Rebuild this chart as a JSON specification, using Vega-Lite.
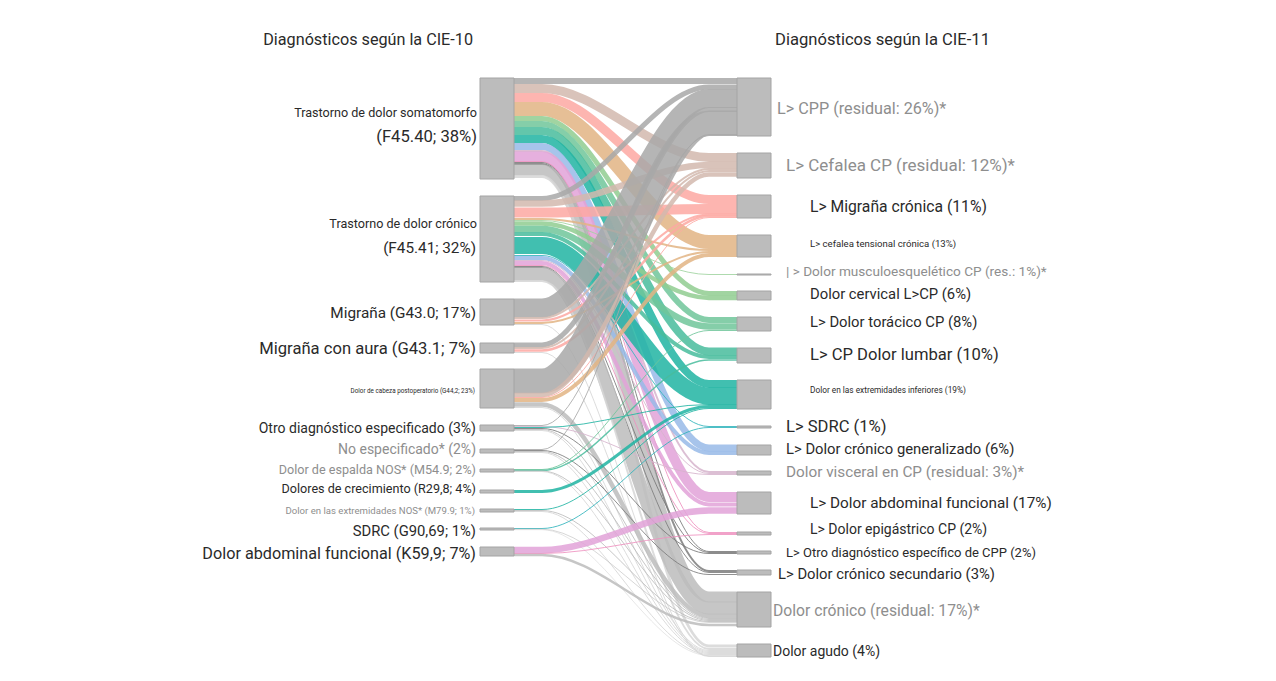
{"$schema":"https://vega.github.io/schema/vega-lite/v6.json","width":1276,"height":681,"padding":0,"autosize":{"type":"fit","contains":"padding"},"background":"white","config":{"view":{"stroke":null}},
"encoding":{"x":{"field":"x","type":"quantitative","axis":null,"scale":{"domain":[0,1276],"nice":false,"zero":false}},"y":{"field":"y","type":"quantitative","axis":null,"scale":{"domain":[0,681],"reverse":true,"nice":false,"zero":false}}},
"layer":[
{"data":{"values":[
{"id":1,"d":"CPP","w":6,"x":[514,542,709,737],"y":[81,81,81,81]},
{"id":2,"d":"Cefalea","w":9,"x":[514,542,709,737],"y":[88.5,88.5,157.5,157.5]},
{"id":3,"d":"Migraña","w":9,"x":[514,542,709,737],"y":[97.5,97.5,199.5,199.5]},
{"id":4,"d":"Tensional","w":14,"x":[514,542,709,737],"y":[109,109,242,242]},
{"id":5,"d":"Cervical","w":5,"x":[514,542,709,737],"y":[118.5,118.5,293.5,293.5]},
{"id":6,"d":"Toracico","w":6,"x":[514,542,709,737],"y":[124,124,320,320]},
{"id":7,"d":"Lumbar","w":8,"x":[514,542,709,737],"y":[131,131,351.5,351.5]},
{"id":8,"d":"Extrem","w":8,"x":[514,542,709,737],"y":[139,139,384,384]},
{"id":9,"d":"General","w":7,"x":[514,542,709,737],"y":[146.5,146.5,448,448]},
{"id":10,"d":"Visceral","w":2,"x":[514,542,709,737],"y":[151,151,472,472]},
{"id":11,"d":"Abd","w":10,"x":[514,542,709,737],"y":[156.5,156.5,497,497]},
{"id":12,"d":"Epig","w":1,"x":[514,542,709,737],"y":[161.5,161.5,532.5,532.5]},
{"id":13,"d":"Otro","w":1,"x":[514,542,709,737],"y":[162.5,162.5,551.5,551.5]},
{"id":14,"d":"Secund","w":2,"x":[514,542,709,737],"y":[164,164,571,571]},
{"id":15,"d":"Res","w":11,"x":[514,542,709,737],"y":[170,170,597,597]},
{"id":16,"d":"Agudo","w":3,"x":[514,542,709,737],"y":[176.5,176.5,646,646]},
{"id":17,"d":"CPP","w":5,"x":[514,542,709,737],"y":[198.5,198.5,87,87]},
{"id":18,"d":"Cefalea","w":6.5,"x":[514,542,709,737],"y":[203.5,203.5,165,165]},
{"id":19,"d":"Migraña","w":10,"x":[514,542,709,737],"y":[212.5,212.5,209,209]},
{"id":20,"d":"Tensional","w":2,"x":[514,542,709,737],"y":[219,219,250,250]},
{"id":21,"d":"Musculo","w":1,"x":[514,542,709,737],"y":[220.5,220.5,274.5,274.5]},
{"id":22,"d":"Cervical","w":4.5,"x":[514,542,709,737],"y":[223.5,223.5,298,298]},
{"id":23,"d":"Toracico","w":6.5,"x":[514,542,709,737],"y":[229,229,326.5,326.5]},
{"id":24,"d":"Lumbar","w":4,"x":[514,542,709,737],"y":[234,234,357,357]},
{"id":25,"d":"Extrem","w":17,"x":[514,542,709,737],"y":[245.5,245.5,396,396]},
{"id":26,"d":"SDRC","w":1,"x":[514,542,709,737],"y":[255.5,255.5,426.5,426.5]},
{"id":27,"d":"General","w":4,"x":[514,542,709,737],"y":[258,258,453,453]},
{"id":28,"d":"Visceral","w":1,"x":[514,542,709,737],"y":[260.5,260.5,473.5,473.5]},
{"id":29,"d":"Abd","w":4,"x":[514,542,709,737],"y":[263,263,504.5,504.5]},
{"id":30,"d":"Epig","w":1,"x":[514,542,709,737],"y":[265.5,265.5,533.5,533.5]},
{"id":31,"d":"Otro","w":1,"x":[514,542,709,737],"y":[266.5,266.5,552.5,552.5]},
{"id":32,"d":"Secund","w":1,"x":[514,542,709,737],"y":[267.5,267.5,572.5,572.5]},
{"id":33,"d":"Res","w":13,"x":[514,542,709,737],"y":[274,274,608,608]},
{"id":34,"d":"Agudo","w":2,"x":[514,542,709,737],"y":[281,281,649,649]},
{"id":35,"d":"CPP","w":19,"x":[514,542,709,737],"y":[308,308,98.5,98.5]},
{"id":36,"d":"Cefalea","w":2,"x":[514,542,709,737],"y":[318,318,169,169]},
{"id":37,"d":"Migraña","w":2,"x":[514,542,709,737],"y":[320.5,320.5,214.5,214.5]},
{"id":38,"d":"Tensional","w":2,"x":[514,542,709,737],"y":[323,323,252,252]},
{"id":39,"d":"Agudo","w":1,"x":[514,542,709,737],"y":[324.5,324.5,656,656]},
{"id":40,"d":"CPP","w":5,"x":[514,542,709,737],"y":[345,345,109.5,109.5]},
{"id":41,"d":"Cefalea","w":2,"x":[514,542,709,737],"y":[348,348,171,171]},
{"id":42,"d":"Migraña","w":2.5,"x":[514,542,709,737],"y":[350.5,350.5,216,216]},
{"id":43,"d":"Agudo","w":1,"x":[514,542,709,737],"y":[352.5,352.5,656.5,656.5]},
{"id":44,"d":"CPP","w":25,"x":[514,542,709,737],"y":[381,381,123,123]},
{"id":45,"d":"Cefalea","w":4.5,"x":[514,542,709,737],"y":[395,395,174.5,174.5]},
{"id":46,"d":"Migraña","w":1,"x":[514,542,709,737],"y":[397.5,397.5,217.5,217.5]},
{"id":47,"d":"Tensional","w":4,"x":[514,542,709,737],"y":[400,400,255,255]},
{"id":48,"d":"Res","w":4.5,"x":[514,542,709,737],"y":[404.5,404.5,616,616]},
{"id":49,"d":"Agudo","w":1,"x":[514,542,709,737],"y":[407.5,407.5,650.5,650.5]},
{"id":50,"d":"CPP","w":1,"x":[514,542,709,737],"y":[425.5,425.5,135.5,135.5]},
{"id":51,"d":"Visceral","w":1,"x":[514,542,709,737],"y":[426.5,426.5,474.5,474.5]},
{"id":52,"d":"Extrem","w":1,"x":[514,542,709,737],"y":[427.5,427.5,404.5,404.5]},
{"id":53,"d":"Otro","w":1,"x":[514,542,709,737],"y":[428.5,428.5,553.5,553.5]},
{"id":54,"d":"Res","w":1,"x":[514,542,709,737],"y":[429.5,429.5,618.5,618.5]},
{"id":55,"d":"Agudo","w":1,"x":[514,542,709,737],"y":[430.5,430.5,651.5,651.5]},
{"id":56,"d":"CPP","w":1,"x":[514,542,709,737],"y":[449.5,449.5,134.5,134.5]},
{"id":57,"d":"Secund","w":1,"x":[514,542,709,737],"y":[450.5,450.5,574.5,574.5]},
{"id":58,"d":"Res","w":1,"x":[514,542,709,737],"y":[451.5,451.5,619.5,619.5]},
{"id":59,"d":"Agudo","w":1,"x":[514,542,709,737],"y":[452.5,452.5,652.5,652.5]},
{"id":60,"d":"Toracico","w":1,"x":[514,542,709,737],"y":[469.5,469.5,330.5,330.5]},
{"id":61,"d":"Lumbar","w":1.5,"x":[514,542,709,737],"y":[470.5,470.5,360,360]},
{"id":62,"d":"Res","w":1,"x":[514,542,709,737],"y":[471,471,620.5,620.5]},
{"id":63,"d":"Agudo","w":1,"x":[514,542,709,737],"y":[471.5,471.5,653.5,653.5]},
{"id":64,"d":"Extrem","w":3,"x":[514,542,709,737],"y":[491.5,491.5,406.5,406.5]},
{"id":65,"d":"Extrem","w":1,"x":[514,542,709,737],"y":[509.5,509.5,408.5,408.5]},
{"id":66,"d":"Res","w":1,"x":[514,542,709,737],"y":[510.5,510.5,621.5,621.5]},
{"id":67,"d":"Agudo","w":1,"x":[514,542,709,737],"y":[511.5,511.5,654.5,654.5]},
{"id":68,"d":"SDRC","w":1,"x":[514,542,709,737],"y":[528.5,528.5,427.5,427.5]},
{"id":69,"d":"Res","w":0.7,"x":[514,542,709,737],"y":[529.2,529.2,622.5,622.5]},
{"id":70,"d":"Agudo","w":0.7,"x":[514,542,709,737],"y":[529.7,529.7,655.5,655.5]},
{"id":71,"d":"Abd","w":6.5,"x":[514,542,709,737],"y":[550,550,510.5,510.5]},
{"id":72,"d":"Epig","w":1,"x":[514,542,709,737],"y":[553.5,553.5,534.5,534.5]},
{"id":73,"d":"Res","w":2.5,"x":[514,542,709,737],"y":[555,555,625,625]}
]},"transform":[{"flatten":["x","y"]}],
"mark":{"type":"line","interpolate":"monotone","opacity":0.85,"strokeCap":"butt"},
"encoding":{"strokeWidth":{"field":"w","type":"quantitative","legend":null,"scale":{"domain":[0,30],"range":[0,30]}},"detail":{"field":"id"},"color":{"field":"d","type":"nominal","legend":null,"scale":{"domain":["CPP","Cefalea","Migraña","Tensional","Musculo","Cervical","Toracico","Lumbar","Extrem","SDRC","General","Visceral","Abd","Epig","Otro","Secund","Res","Agudo","oscuro","gris"],"range":["#a8a8a8","#d2b8ae","#fda8a2","#e2b484","#a0d4a0","#90cc90","#70c69a","#48bc9c","#20b4a2","#30b4bc","#98bae8","#d6b4cc","#e2a2d8","#ee92c0","#787878","#7c7c7c","#bcbcbc","#d6d6d6","#2a2a2a","#8e8e8e"]}}}},
{"data":{"values":[
{"n":"Somatomorfo","x":480,"x2":514,"y":78,"v":179},{"n":"Crónico","x":480,"x2":514,"y":196,"v":282},{"n":"Migraña","x":480,"x2":514,"y":299,"v":325},{"n":"Aura","x":480,"x2":514,"y":343,"v":353},{"n":"Postop","x":480,"x2":514,"y":369,"v":408},{"n":"Otro","x":480,"x2":514,"y":425,"v":431},{"n":"NoEsp","x":480,"x2":514,"y":449,"v":453},{"n":"Espalda","x":480,"x2":514,"y":469,"v":472},{"n":"Crecim","x":480,"x2":514,"y":490,"v":493},{"n":"ExtNOS","x":480,"x2":514,"y":509,"v":512},{"n":"SDRC","x":480,"x2":514,"y":528,"v":530},{"n":"Abd","x":480,"x2":514,"y":547,"v":556},
{"n":"CPP","x":737,"x2":771,"y":78,"v":136},{"n":"Cefalea","x":737,"x2":771,"y":153,"v":178},{"n":"MigrañaCr","x":737,"x2":771,"y":195,"v":218},{"n":"Tensional","x":737,"x2":771,"y":235,"v":257},{"n":"Musculo","x":737,"x2":771,"y":274,"v":275},{"n":"Cervical","x":737,"x2":771,"y":291,"v":300},{"n":"Toracico","x":737,"x2":771,"y":317,"v":331},{"n":"Lumbar","x":737,"x2":771,"y":348,"v":363},{"n":"Extrem","x":737,"x2":771,"y":380,"v":409},{"n":"SDRCd","x":737,"x2":771,"y":426,"v":428},{"n":"General","x":737,"x2":771,"y":445,"v":455},{"n":"Visceral","x":737,"x2":771,"y":471,"v":475},{"n":"Abdd","x":737,"x2":771,"y":492,"v":514},{"n":"Epig","x":737,"x2":771,"y":532,"v":535},{"n":"Otrod","x":737,"x2":771,"y":551,"v":554},{"n":"Secund","x":737,"x2":771,"y":570,"v":575},{"n":"Res","x":737,"x2":771,"y":592,"v":627},{"n":"Agudo","x":737,"x2":771,"y":644,"v":657}
]},"mark":{"type":"rect","fill":"#bcbcbc","stroke":"#a4a4a4","strokeWidth":1},"encoding":{"x2":{"field":"x2"},"y2":{"field":"v"}}},
{"data":{"values":[
{"t":"Diagnósticos según la CIE-10","x":473,"y":39,"s":"t16","c":"oscuro"},
{"t":"Trastorno de dolor somatomorfo","x":477,"y":112,"s":"t12","c":"oscuro"},
{"t":"(F45.40; 38%)","x":477,"y":136,"s":"t165","c":"oscuro"},
{"t":"Trastorno de dolor crónico","x":477,"y":223,"s":"t12","c":"oscuro"},
{"t":"(F45.41; 32%)","x":476,"y":247,"s":"t15","c":"oscuro"},
{"t":"Migraña (G43.0; 17%)","x":476,"y":312,"s":"t15","c":"oscuro"},
{"t":"Migraña con aura (G43.1; 7%)","x":476,"y":348,"s":"t165","c":"oscuro"},
{"t":"Dolor de cabeza postoperatorio (G44,2; 23%)","x":475,"y":390,"s":"t6","c":"oscuro"},
{"t":"Otro diagnóstico especificado (3%)","x":476,"y":428,"s":"t14","c":"oscuro"},
{"t":"No especificado* (2%)","x":476,"y":449,"s":"t14","c":"gris"},
{"t":"Dolor de espalda NOS* (M54.9; 2%)","x":476,"y":469,"s":"t12","c":"gris"},
{"t":"Dolores de crecimiento (R29,8; 4%)","x":476,"y":488,"s":"t12","c":"oscuro"},
{"t":"Dolor en las extremidades NOS* (M79.9; 1%)","x":475,"y":510,"s":"t9","c":"gris"},
{"t":"SDRC (G90,69; 1%)","x":476,"y":531,"s":"t145","c":"oscuro"},
{"t":"Dolor abdominal funcional (K59,9; 7%)","x":476,"y":553,"s":"t16","c":"oscuro"}
]},"mark":{"type":"text","align":"right","baseline":"middle","font":"Roboto","dy":1},"encoding":{"text":{"field":"t"},"size":{"field":"s","type":"nominal","legend":null,"scale":{"type":"ordinal","domain":["t6","t8","t9","t12","t13","t135","t14","t145","t15","t155","t16","t165","t17"],"range":[6.3,8.3,9.6,12.6,13,13.6,14,14.8,15.3,15.7,16.2,16.6,17]}},"color":{"field":"c","type":"nominal","legend":null}}},
{"data":{"values":[
{"t":"Diagnósticos según la CIE-11","x":775,"y":39,"s":"t165","c":"oscuro"},
{"t":"L> CPP (residual: 26%)*","x":777,"y":108,"s":"t16","c":"gris"},
{"t":"L> Cefalea CP (residual: 12%)*","x":786,"y":165,"s":"t17","c":"gris"},
{"t":"L> Migraña crónica (11%)","x":810,"y":206,"s":"t155","c":"oscuro"},
{"t":"L> cefalea tensional crónica (13%)","x":810,"y":243,"s":"t9","c":"oscuro"},
{"t":"| > Dolor musculoesquelético CP (res.: 1%)*","x":786,"y":271,"s":"t135","c":"gris"},
{"t":"Dolor cervical L>CP (6%)","x":810,"y":294,"s":"t145","c":"oscuro"},
{"t":"L> Dolor torácico CP (8%)","x":810,"y":322,"s":"t145","c":"oscuro"},
{"t":"L> CP Dolor lumbar (10%)","x":810,"y":354,"s":"t165","c":"oscuro"},
{"t":"Dolor en las extremidades inferiores (19%)","x":810,"y":390,"s":"t8","c":"oscuro"},
{"t":"L> SDRC (1%)","x":786,"y":426,"s":"t165","c":"oscuro"},
{"t":"L> Dolor crónico generalizado (6%)","x":786,"y":449,"s":"t145","c":"oscuro"},
{"t":"Dolor visceral en CP (residual: 3%)*","x":786,"y":471,"s":"t15","c":"gris"},
{"t":"L> Dolor abdominal funcional (17%)","x":810,"y":502,"s":"t15","c":"oscuro"},
{"t":"L> Dolor epigástrico CP (2%)","x":810,"y":529,"s":"t14","c":"oscuro"},
{"t":"L> Otro diagnóstico específico de CPP (2%)","x":786,"y":552,"s":"t13","c":"oscuro"},
{"t":"L> Dolor crónico secundario (3%)","x":778,"y":574,"s":"t145","c":"oscuro"},
{"t":"Dolor crónico (residual: 17%)*","x":773,"y":610,"s":"t155","c":"gris"},
{"t":"Dolor agudo (4%)","x":773,"y":651,"s":"t14","c":"oscuro"}
]},"mark":{"type":"text","align":"left","baseline":"middle","font":"Roboto","dy":1},"encoding":{"text":{"field":"t"},"size":{"field":"s","type":"nominal","legend":null,"scale":{"type":"ordinal","domain":["t6","t8","t9","t12","t13","t135","t14","t145","t15","t155","t16","t165","t17"],"range":[6.3,8.3,9.6,12.6,13,13.6,14,14.8,15.3,15.7,16.2,16.6,17]}},"color":{"field":"c","type":"nominal","legend":null}}}
]}
